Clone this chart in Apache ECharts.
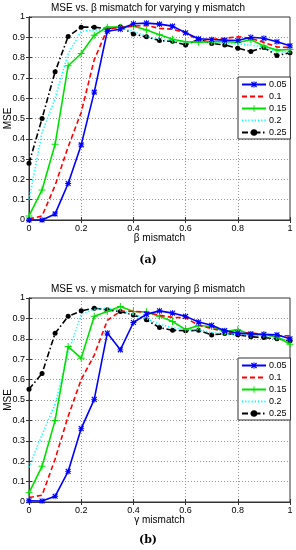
<!DOCTYPE html>
<html><head><meta charset="utf-8">
<script src="https://cdn.jsdelivr.net/npm/echarts@6/dist/echarts.min.js"></script>
<style>html,body{margin:0;padding:0;background:#fff}#c{width:296px;height:550px}</style>
</head><body><div id="c"></div>
<script>
// ---- data ----
var mismatch = [0, 0.05, 0.1, 0.15, 0.2, 0.25, 0.3, 0.35, 0.4, 0.45, 0.5, 0.55, 0.6, 0.65, 0.7, 0.75, 0.8, 0.85, 0.9, 0.95, 1.0];
var seriesNames = ['0.05', '0.1', '0.15', '0.2', '0.25'];
var xTicks = [0, 0.2, 0.4, 0.6, 0.8, 1];
var yTicks = [0, 0.1, 0.2, 0.3, 0.4, 0.5, 0.6, 0.7, 0.8, 0.9, 1];

// (a) MSE vs beta mismatch, varying gamma mismatch
var a_005 = [0.00, 0.00, 0.03, 0.18, 0.37, 0.63, 0.93, 0.94, 0.967, 0.970, 0.965, 0.955, 0.922, 0.893, 0.889, 0.886, 0.884, 0.900, 0.895, 0.878, 0.858];
var a_010 = [0.005, 0.02, 0.17, 0.36, 0.53, 0.79, 0.94, 0.95, 0.955, 0.958, 0.944, 0.940, 0.922, 0.885, 0.890, 0.895, 0.903, 0.895, 0.875, 0.852, 0.850];
var a_015 = [0.02, 0.148, 0.373, 0.76, 0.82, 0.91, 0.95, 0.95, 0.955, 0.936, 0.912, 0.890, 0.878, 0.876, 0.878, 0.880, 0.874, 0.888, 0.857, 0.837, 0.840];
var a_020 = [0.10, 0.43, 0.60, 0.82, 0.93, 0.935, 0.94, 0.945, 0.93, 0.905, 0.890, 0.885, 0.875, 0.880, 0.875, 0.870, 0.868, 0.862, 0.852, 0.830, 0.826];
var a_025 = [0.28, 0.50, 0.73, 0.904, 0.950, 0.950, 0.942, 0.952, 0.916, 0.903, 0.884, 0.880, 0.862, 0.890, 0.870, 0.862, 0.846, 0.830, 0.850, 0.810, 0.824];

// (b) MSE vs gamma mismatch, varying beta mismatch
var b_005 = [0.006, 0.005, 0.028, 0.15, 0.36, 0.503, 0.828, 0.746, 0.880, 0.920, 0.937, 0.926, 0.910, 0.882, 0.866, 0.840, 0.828, 0.824, 0.822, 0.820, 0.800];
var b_010 = [0.022, 0.033, 0.21, 0.42, 0.60, 0.72, 0.89, 0.935, 0.935, 0.930, 0.915, 0.905, 0.903, 0.866, 0.850, 0.836, 0.826, 0.830, 0.820, 0.815, 0.815];
var b_015 = [0.045, 0.175, 0.40, 0.762, 0.705, 0.91, 0.934, 0.958, 0.934, 0.932, 0.910, 0.885, 0.845, 0.865, 0.860, 0.835, 0.845, 0.820, 0.820, 0.810, 0.773];
var b_020 = [0.17, 0.33, 0.48, 0.73, 0.92, 0.945, 0.950, 0.940, 0.920, 0.900, 0.870, 0.855, 0.845, 0.845, 0.830, 0.825, 0.820, 0.820, 0.815, 0.800, 0.795];
var b_025 = [0.553, 0.630, 0.827, 0.910, 0.937, 0.950, 0.942, 0.934, 0.917, 0.893, 0.855, 0.842, 0.839, 0.842, 0.819, 0.826, 0.820, 0.810, 0.806, 0.800, 0.790];

var titles = ['MSE vs. \u03b2 mismatch for varying \u03b3 mismatch', 'MSE vs. \u03b3 mismatch for varying \u03b2 mismatch'];
var xNames = ['\u03b2 mismatch', '\u03b3 mismatch'];
var captions = ['(a)', '(b)'];

// ---- styling ----
var FONT = 'Liberation Sans';
var colors = ['#0000ff', '#ff0000', '#00e000', '#00ffff', '#000000'];
var dashTypes = ['solid', [5, 3], 'solid', [1.2, 2], [6, 2.5, 1.5, 2.5]];
var ASTERISK = 'path://M4.3,0L5.7,0L5.7,10L4.3,10Z M0,4.3L10,4.3L10,5.7L0,5.7Z M1.7,0.3L9.7,8.3L8.3,9.7L0.3,1.7Z M8.3,0.3L9.7,1.7L1.7,9.7L0.3,8.3Z';
var PLUS = 'path://M4.3,0L5.7,0L5.7,10L4.3,10Z M0,4.3L10,4.3L10,5.7L0,5.7Z';
var symbols = [ASTERISK, 'circle', PLUS, 'circle', 'circle'];
var hasSymbol = [true, false, true, false, true];
var symbolSizes = [6, 1, 7, 1, 5];

var grids = [
  {left: 29, right: 6, top: 17, height: 203},
  {left: 29, right: 6, top: 298, height: 204}
];

function pairs(ys) { return mismatch.map(function (x, i) { return [x, ys[i]]; }); }
var panelData = [[a_005, a_010, a_015, a_020, a_025], [b_005, b_010, b_015, b_020, b_025]];

var xAxes = [], yAxes = [], series = [], legends = [], titleOpts = [], graphics = [];
grids.forEach(function (g, gi) {
  g.show = true; g.borderColor = '#333'; g.borderWidth = 1; g.backgroundColor = '#fff';
  g.outerBoundsMode = 'none'; g.containLabel = false;
  var axisLine = {show: true, lineStyle: {color: '#333', width: 1}};
  xAxes.push({
    type: 'value', gridIndex: gi, min: 0, max: 1, interval: 0.2, position: 'bottom',
    axisLine: axisLine, axisTick: {show: true, inside: true, length: 3, lineStyle: {color: '#333'}},
    axisLabel: {color: '#000', fontSize: 9, fontFamily: FONT, margin: 4,
      formatter: function (v) { return xTicks.indexOf(Math.round(v * 10) / 10) >= 0 ? String(Math.round(v * 10) / 10) : ''; }},
    splitLine: {show: true, lineStyle: {color: '#999', type: [1, 2], width: 1}},
    name: xNames[gi], nameLocation: 'middle', nameGap: 13, nameMoveOverlap: false,
    nameTextStyle: {color: '#000', fontSize: 10, fontFamily: FONT}
  });
  xAxes.push({
    type: 'value', gridIndex: gi, min: 0, max: 1, interval: 0.2, position: 'top',
    axisLine: axisLine, axisTick: {show: true, inside: true, length: 3, lineStyle: {color: '#333'}},
    axisLabel: {show: false}, splitLine: {show: false}
  });
  yAxes.push({
    type: 'value', gridIndex: gi, min: 0, max: 1, interval: 0.1, position: 'left',
    axisLine: axisLine, axisTick: {show: true, inside: true, length: 3, lineStyle: {color: '#333'}},
    axisLabel: {color: '#000', fontSize: 9, fontFamily: FONT, margin: 4,
      formatter: function (v) { return String(Math.round(v * 10) / 10); }},
    splitLine: {show: true, lineStyle: {color: '#999', type: [1, 2], width: 1}},
    name: 'MSE', nameLocation: 'middle', nameGap: 16, nameRotate: 90, nameMoveOverlap: false,
    nameTextStyle: {color: '#000', fontSize: 10, fontFamily: FONT}
  });
  yAxes.push({
    type: 'value', gridIndex: gi, min: 0, max: 1, interval: 0.1, position: 'right',
    axisLine: axisLine, axisTick: {show: true, inside: true, length: 3, lineStyle: {color: '#333'}},
    axisLabel: {show: false}, splitLine: {show: false}
  });
  seriesNames.forEach(function (nm, si) {
    series.push({
      type: 'line', name: nm, xAxisIndex: gi * 2, yAxisIndex: gi * 2,
      data: pairs(panelData[gi][si]),
      symbol: symbols[si], symbolSize: symbolSizes[si], showSymbol: hasSymbol[si],
      lineStyle: {color: colors[si], width: 1.6, type: dashTypes[si]},
      itemStyle: hasSymbol[si] ? {color: colors[si], borderColor: colors[si], borderWidth: 0}
                               : {color: 'rgba(0,0,0,0)', borderWidth: 0},
      animation: false, silent: true, z: 10 - si + (si === 0 ? 5 : 0)
    });
  });
  titleOpts.push({
    text: titles[gi], left: 'center', top: gi === 0 ? -2 : 279,
    textStyle: {color: '#000', fontSize: 10, fontWeight: 'normal', fontFamily: FONT}
  });
  legends.push({
    orient: 'vertical', left: 238, top: gi === 0 ? 77 : 358,
    width: 50, padding: [3, 4, 2, 3], itemGap: 3, itemWidth: 24, itemHeight: 8,
    backgroundColor: '#fff', borderColor: '#333', borderWidth: 1, borderRadius: 0,
    textStyle: {color: '#000', fontSize: 9, fontFamily: FONT, padding: [0, 0, 0, -2]},
    data: seriesNames.map(function (nm) { return {name: nm}; }),
    selectedMode: false
  });
  graphics.push({
    type: 'text', left: 'center', top: gi === 0 ? 255 : 535,
    style: {text: captions[gi], fill: '#000', font: 'bold 11px "DejaVu Serif", serif'}
  });
});

var chart = echarts.init(document.getElementById('c'), null, {renderer: 'canvas'});
chart.setOption({
  animation: false,
  backgroundColor: '#fff',
  title: titleOpts,
  grid: grids,
  xAxis: xAxes,
  yAxis: yAxes,
  legend: legends,
  series: series,
  graphic: graphics
});
</script>
</body></html>
